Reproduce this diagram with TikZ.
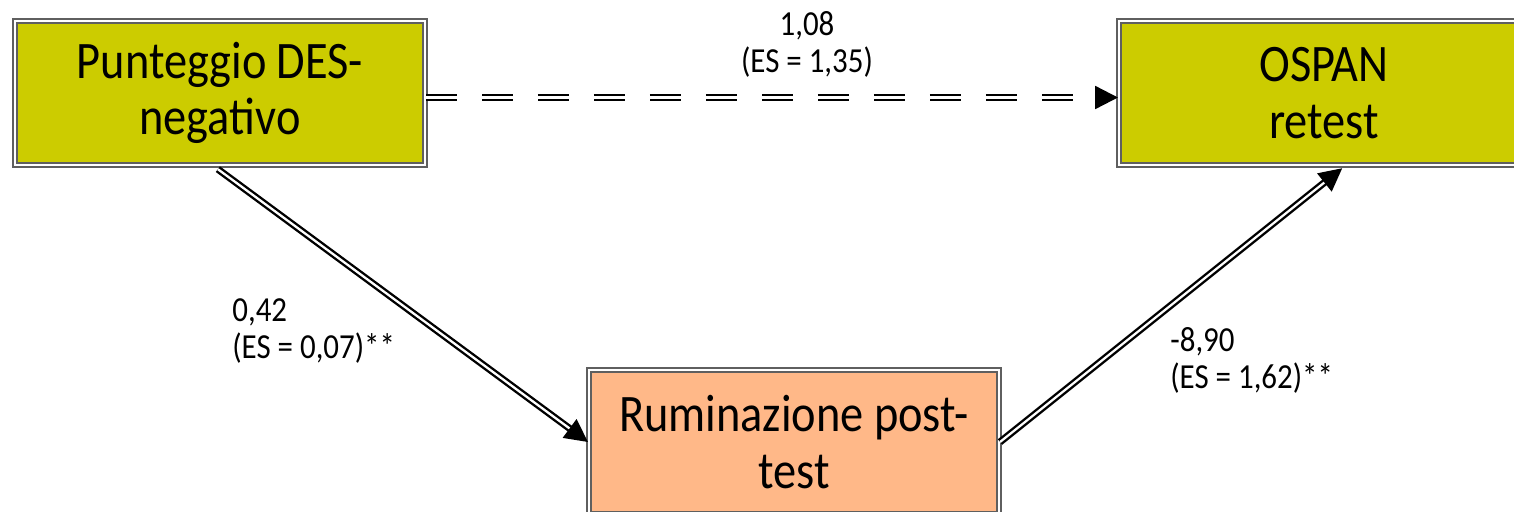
\documentclass[tikz,border=0pt]{standalone}
\usepackage{fontspec}
\setmainfont{Carlito}[FakeStretch=0.88]
\usepackage{tikz}
\usetikzlibrary{arrows.meta}
\usetikzlibrary{positioning}

\definecolor{boxyellow}{RGB}{204,204,0}
\definecolor{boxpeach}{RGB}{255,184,136}
\definecolor{framegray}{RGB}{95,95,95}

\begin{document}
\begin{tikzpicture}[x=0.02cm,y=-0.02cm]
        \useasboundingbox (0,0) rectangle (1514,511);
        \clip (0,0) rectangle (1514,511);
        \begin{scope}[every node/.style={rectangle,draw=framegray,line width=1.2pt,double=white,double distance=1.1pt,minimum width=8.2cm,minimum height=2.88cm,inner sep=0pt,align=center,font=\fontsize{30}{32}\selectfont}]
        \node[fill=boxyellow] (des) at (220,93) {Punteggio DES-\\negativo};
        \node[fill=boxyellow] (ospan) at (1324,93) {OSPAN\\retest};
        \node[fill=boxpeach] (rum) at (794,442) {Ruminazione post-\\test};
        \end{scope}
        \begin{scope}[every edge/.style={draw=black,line width=1.35pt,double=white,double distance=1.3pt,-{Triangle[length=13pt,width=13pt]}}]
        \path (des.-95) edge[shorten <=3pt] (rum.west);
        \path (rum.east) edge[shorten >=2pt] (ospan.-74);
        \path ([yshift=-0.09cm]des.east) edge[dash pattern=on 0.62cm off 0.5cm] ([yshift=-0.09cm]ospan.west);
        \end{scope}
        \begin{scope}[every node/.style={inner sep=0pt,font=\fontsize{20}{21}\selectfont}]
        \node[align=center] (cprime) at (807,44) {1,08\\(ES = 1,35)};
        \node[align=left,anchor=west] (apath) at (232,331) {0,42\\(ES = 0,07)**};
        \node[align=left,anchor=west] (bpath) at (1170,360) {-8,90\\(ES = 1,62)**};
        \end{scope}
\end{tikzpicture}
\end{document}
